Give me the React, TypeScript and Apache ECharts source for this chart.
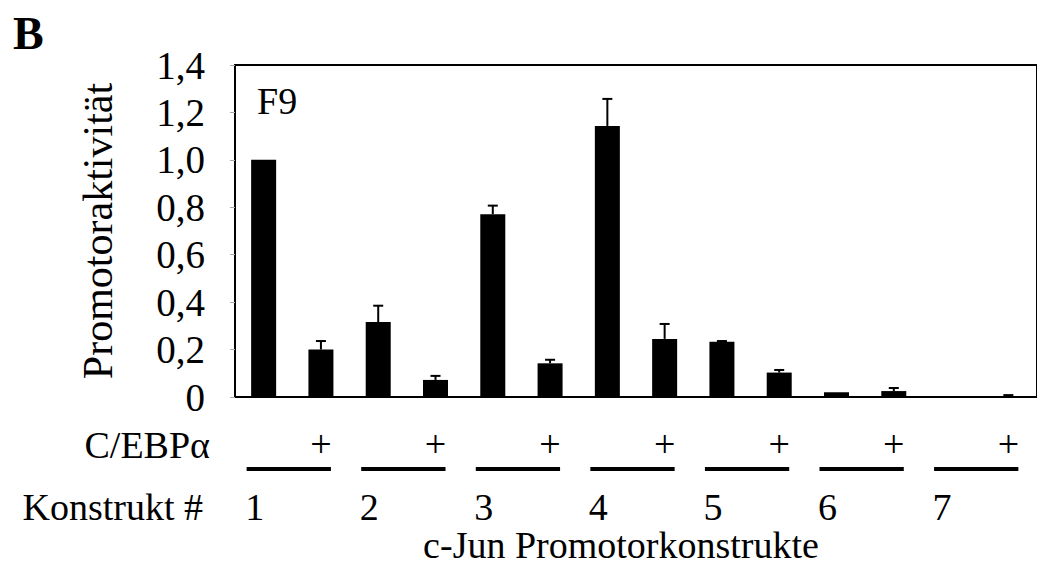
import React, { useEffect, useRef } from "react";
import * as echarts from "echarts";

const categories = ["1-", "1+", "2-", "2+", "3-", "3+", "4-", "4+", "5-", "5+", "6-", "6+", "7-", "7+"];
const values = [1.0, 0.2, 0.316, 0.072, 0.771, 0.142, 1.143, 0.245, 0.233, 0.103, 0.02, 0.025, 0, 0.004];
const errorTops = [1.0, 0.236, 0.385, 0.089, 0.807, 0.157, 1.257, 0.308, 0.236, 0.114, 0.02, 0.038, 0, 0.008];
const cebpLabels = ["", "+", "", "+", "", "+", "", "+", "", "+", "", "+", "", "+"];
const constructLabels = ["1", "2", "3", "4", "5", "6", "7"];
const yTickLabels = ["0", "0,2", "0,4", "0,6", "0,8", "1,0", "1,2", "1,4"];

const FONT = "'Liberation Serif', 'Times New Roman', serif";

export default function App() {
  const ref = useRef<HTMLDivElement>(null);
  useEffect(() => {
    if (!ref.current) return;
    const chart = echarts.init(ref.current, null, { renderer: "svg" });
    chart.setOption({
      animation: false,
      backgroundColor: "#fff",
      textStyle: { fontFamily: FONT, color: "#000" },
      grid: {
        left: 235,
        top: 65,
        bottom: 169,
        width: 804,
        show: true,
        borderColor: "#000",
        borderWidth: 2,
        backgroundColor: "transparent",
      },
      xAxis: {
        type: "category",
        data: categories,
        boundaryGap: true,
        axisLine: { show: true, lineStyle: { color: "#000", width: 2 } },
        axisTick: { show: false },
        axisLabel: {
          fontFamily: FONT,
          fontSize: 38,
          color: "#000",
          margin: 28,
          interval: 0,
          formatter: (_v: string, i: number) => cebpLabels[i],
        },
      },
      yAxis: {
        type: "value",
        min: 0,
        max: 1.4,
        interval: 0.2,
        name: "Promotoraktivität",
        nameLocation: "middle",
        nameGap: 116,
        nameRotate: 90,
        nameTextStyle: { fontFamily: FONT, fontSize: 42, color: "#000" },
        splitLine: { show: false },
        axisLine: { show: true, lineStyle: { color: "#000", width: 2 } },
        axisTick: { show: true, length: 5, lineStyle: { color: "#aaa", width: 1 } },
        axisLabel: {
          fontFamily: FONT,
          fontSize: 39,
          color: "#000",
          margin: 30,
          formatter: (v: number) => yTickLabels[Math.round(v / 0.2)] ?? "",
        },
      },
      series: [
        {
          type: "bar",
          data: values,
          barWidth: 25,
          itemStyle: { color: "#000" },
        },
        {
          type: "custom",
          data: categories.map((_c, i) => [i, values[i], errorTops[i]]),
          renderItem: (_params: any, api: any) => {
            const i = api.value(0);
            const v = api.value(1);
            const t = api.value(2);
            if (t <= v) return null;
            const p0 = api.coord([i, v]);
            const p1 = api.coord([i, t]);
            return {
              type: "group",
              children: [
                {
                  type: "line",
                  shape: { x1: p0[0], y1: p0[1], x2: p1[0], y2: p1[1] },
                  style: { stroke: "#000", lineWidth: 2 },
                },
                {
                  type: "line",
                  shape: { x1: p1[0] - 5, y1: p1[1], x2: p1[0] + 5, y2: p1[1] },
                  style: { stroke: "#000", lineWidth: 2 },
                },
              ],
            };
          },
          z: 3,
        },
      ],
    });

    const graphics: any[] = [
      {
        type: "text",
        left: 13,
        top: 10,
        style: { text: "B", font: `bold 46px ${FONT}`, fill: "#000" },
      },
      {
        type: "text",
        x: 257,
        y: 82,
        style: { text: "F9", font: `38px ${FONT}`, fill: "#000" },
      },
      {
        type: "text",
        x: 210,
        y: 445,
        style: { text: "C/EBPα", font: `38px ${FONT}`, fill: "#000", align: "right", verticalAlign: "middle" },
      },
      {
        type: "text",
        x: 203,
        y: 507,
        style: { text: "Konstrukt #", font: `38px ${FONT}`, fill: "#000", align: "right", verticalAlign: "middle" },
      },
      {
        type: "text",
        x: 621,
        y: 545,
        style: { text: "c-Jun Promotorkonstrukte", font: `38px ${FONT}`, fill: "#000", align: "center", verticalAlign: "middle" },
      },
    ];
    constructLabels.forEach((lab, k) => {
      const c1 = chart.convertToPixel({ xAxisIndex: 0 }, categories[2 * k]) as number;
      const c2 = chart.convertToPixel({ xAxisIndex: 0 }, categories[2 * k + 1]) as number;
      graphics.push({
        type: "rect",
        shape: { x: c1 - 17, y: 467, width: c2 + 10 - (c1 - 17), height: 4 },
        style: { fill: "#000" },
      });
      graphics.push({
        type: "text",
        x: c1 - 9,
        y: 507,
        style: { text: lab, font: `38px ${FONT}`, fill: "#000", align: "center", verticalAlign: "middle" },
      });
    });
    chart.setOption({ graphic: graphics });

    return () => chart.dispose();
  }, []);
  return (
    <div
      ref={ref}
      style={{ position: "fixed", left: 0, top: 0, width: 1037, height: 566, background: "#fff" }}
    />
  );
}
